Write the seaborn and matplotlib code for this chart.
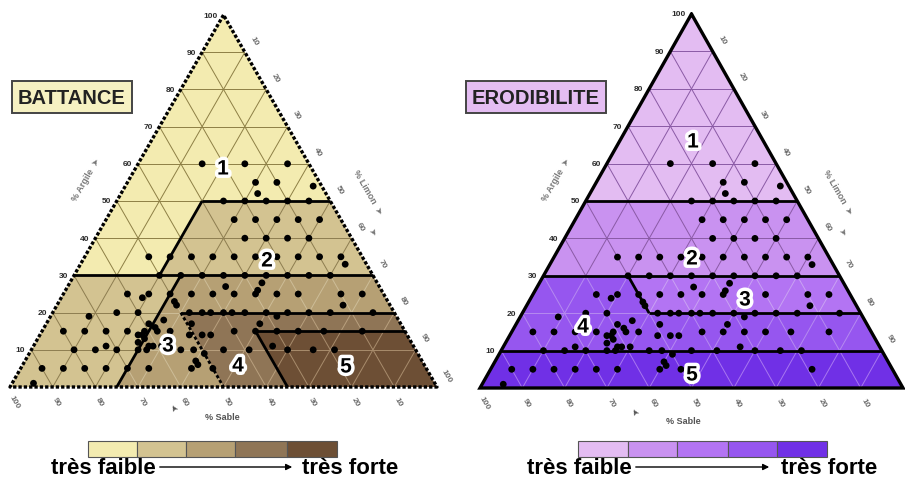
import numpy as np
import pandas as pd
import matplotlib
matplotlib.use("Agg")
import matplotlib.pyplot as plt
import seaborn as sns
from matplotlib.collections import LineCollection
from matplotlib.patches import Polygon, Rectangle
import matplotlib.patheffects as pe

sns.set_theme(style="white")
plt.rcParams["font.family"] = ["Liberation Sans", "DejaVu Sans"]

# ---------------- data (percent) ----------------
clay = [60, 60, 60, 55, 55, 54, 52,
        50, 50, 50, 50, 50, 45, 45, 45, 45, 45, 40, 40, 40, 40,
        35, 35, 35, 35, 35, 35, 35, 35, 35, 35, 33,
        30, 30, 30, 30, 30, 30, 30, 30, 30, 28, 26, 27,
        25, 24, 25, 25, 25, 25, 25, 25, 25, 25, 25, 25, 22, 22, 23,
        19, 20, 20, 20, 20, 20, 20, 20, 20, 20, 20, 20, 20, 20, 19,
        17, 17, 17, 16, 18, 15, 14, 14, 13, 12, 11, 11, 10, 10,
        15, 15, 15, 15, 15, 15, 14, 14, 14, 15, 15, 15, 15, 15, 15,
        11, 11, 11, 10, 10, 10, 10, 10, 9, 10, 10, 10, 10, 10, 7, 6,
        5, 5, 5, 5, 5, 5, 5, 5, 5, 1]
silt = [15, 25, 35, 30, 35, 44, 32,
        25, 30, 35, 40, 45, 30, 35, 40, 45, 50, 35, 40, 45, 50,
        15, 20, 25, 30, 35, 40, 45, 50, 55, 60, 62,
        20, 25, 30, 35, 40, 45, 50, 55, 60, 45, 45, 37,
        15, 19, 20, 25, 30, 35, 40, 45, 50, 55, 65, 70, 67, 28, 27,
        9, 15, 20, 32, 35, 37, 40, 42, 45, 50, 55, 60, 65, 75, 53,
        50, 34, 24, 26, 27, 27, 24, 23, 25, 24, 28, 27, 27, 25,
        5, 10, 15, 20, 24, 30, 35, 38, 40, 45, 50, 55, 60, 66, 75,
        56, 17, 30, 10, 15, 20, 35, 38, 41, 45, 51, 60, 66, 71, 40, 41,
        5, 10, 15, 20, 25, 30, 40, 45, 76, 5]

tick_values = [10, 20, 30, 40, 50, 60, 70, 80, 90, 100]
zone_names = ["1", "2", "3", "4", "5"]
titles = ["BATTANCE", "ERODIBILITE"]
legend_words = ["très faible", "très forte"]

left_colors = ["#f3ebb0", "#d3c391", "#b6a074", "#8f7556", "#6d4f35"]
right_colors = ["#e3bcf2", "#c992f0", "#b374f3", "#9656ef", "#7030e6"]

# zones as (clay, silt) polygons
left_zones = [
    [[(100, 0), (30, 0), (30, 20), (50, 20), (50, 50)]],
    [[(50, 20), (50, 50), (30, 70), (30, 20)], [(30, 0), (0, 0), (0, 25), (30, 25)]],
    [[(30, 25), (30, 70), (20, 80), (20, 30), (0, 50), (0, 25)]],
    [[(20, 30), (20, 80), (15, 85), (15, 50), (0, 65), (0, 50)]],
    [[(15, 50), (15, 85), (0, 100), (0, 65)]],
]
right_zones = [
    [[(100, 0), (50, 0), (50, 50)]],
    [[(50, 0), (50, 50), (30, 70), (30, 0)]],
    [[(30, 20), (30, 70), (20, 80), (20, 30)]],
    [[(30, 0), (30, 20), (20, 30), (20, 80), (10, 90), (10, 0)]],
    [[(10, 0), (10, 90), (0, 100), (0, 0)]],
]
left_bounds = [[(50, 20), (50, 50)], [(50, 20), (30, 20)], [(30, 0), (30, 70)],
               [(30, 25), (0, 25)], [(20, 30), (20, 80)], [(15, 50), (15, 85)],
               [(15, 50), (0, 65)]]
left_dotted = [[(20, 30), (0, 50)]]
right_bounds = [[(50, 0), (50, 50)], [(30, 0), (30, 70)], [(30, 20), (20, 30)],
                [(20, 30), (20, 80)], [(10, 0), (10, 90)]]

left_grid_cols = ["#8d7f45", "#8d7d50", "#cdbd98", "#b9a07e", "#a88c6c"]
right_grid_cols = ["#8a5aa5", "#8a5aa5", "#c9a2f2", "#b58af0", "#a877f0"]

LEFT = dict(x0=10, W=427, y0=388, H=372)
RIGHT = dict(x0=480, W=423, y0=389, H=374)


def tern(cfg, c, s):
    c = np.asarray(c, float)
    s = np.asarray(s, float)
    x = cfg["x0"] + cfg["W"] * (s + c / 2) / 100.0
    y = cfg["y0"] - cfg["H"] * c / 100.0
    return x, y


def pts(cfg, seq):
    c = [p[0] for p in seq]
    s = [p[1] for p in seq]
    x, y = tern(cfg, c, s)
    return np.column_stack([x, y])


fig = plt.figure(figsize=(9.05, 4.81), dpi=100)
ax = fig.add_axes([0, 0, 1, 1])
ax.set_xlim(0, 905)
ax.set_ylim(481, 0)
ax.axis("off")

# grid segments
grid = []
for k in range(10, 100, 10):
    grid.append([(k, 0), (k, 100 - k)])
    grid.append([(0, k), (100 - k, k)])
    grid.append([(0, 100 - k), (100 - k, 0)])


def draw_panel(cfg, zones, colors, gcols, bounds, dotted, dotted_border, right_max):
    for polys, col, gc in zip(zones, colors, gcols):
        for poly in polys:
            patch = Polygon(pts(cfg, poly), closed=True, facecolor=col,
                            edgecolor="none", zorder=1)
            ax.add_patch(patch)
            lc = LineCollection([pts(cfg, g) for g in grid], colors=gc,
                                linewidths=0.7, zorder=2)
            ax.add_collection(lc)
            lc.set_clip_path(patch)
    for b in bounds:
        p = pts(cfg, b)
        ax.plot(p[:, 0], p[:, 1], color="black", lw=2.0, zorder=3,
                solid_capstyle="butt")
    for b in dotted:
        p = pts(cfg, b)
        ax.plot(p[:, 0], p[:, 1], color="black", lw=2.0, zorder=3,
                linestyle=(0, (1.2, 0.8)))
    border = pts(cfg, [(100, 0), (0, 0), (0, 100), (100, 0)])
    if dotted_border:
        ax.plot(border[:, 0], border[:, 1], color="black", lw=2.4, zorder=3,
                linestyle=(0, (1.0, 0.6)))
    else:
        ax.plot(border[:, 0], border[:, 1], color="black", lw=2.4, zorder=3,
                solid_joinstyle="miter")
    # tick labels
    for v in tick_values:
        x, y = tern(cfg, v, 0)
        ax.text(x - 6, y, str(v), ha="right", va="center", fontsize=6,
                fontweight="bold", color="#2a2a2a", zorder=5)
        if v <= right_max:
            x, y = tern(cfg, 100 - v, v)
            ax.text(x + 9, y - 12, str(v), ha="center", va="center", fontsize=6,
                    fontweight="bold", color="#6a6a6a", rotation=-60, zorder=5)
        x, y = tern(cfg, 0, 100 - v)
        ax.text(x + 4, y + 14, str(v), ha="center", va="center", fontsize=6,
                fontweight="bold", color="#6a6a6a", rotation=-60, zorder=5)


draw_panel(LEFT, left_zones, left_colors, left_grid_cols, left_bounds,
           left_dotted, True, 100)
draw_panel(RIGHT, right_zones, right_colors, right_grid_cols, right_bounds,
           [], False, 90)

# data points
lx, ly = tern(LEFT, clay, silt)
rx, ry = tern(RIGHT, clay, silt)
df = pd.DataFrame({"x": np.concatenate([lx, rx]), "y": np.concatenate([ly, ry])})
sns.scatterplot(data=df, x="x", y="y", color="black", s=24, edgecolor="none",
                linewidth=0, ax=ax, zorder=4, legend=False)
ax.set_xlim(0, 905)
ax.set_ylim(481, 0)
ax.axis("off")

# zone numbers
stroke = [pe.withStroke(linewidth=5, foreground="white")]
left_lab = [(223, 170), (267, 262), (168, 347), (238, 367), (346, 368)]
right_lab = [(693, 143), (692, 260), (745, 301), (583, 328), (692, 376)]
for name, (x, y) in zip(zone_names, left_lab):
    ax.text(x, y, name, ha="center", va="center", fontsize=15, fontweight="bold",
            color="black", path_effects=stroke, zorder=6)
for name, (x, y) in zip(zone_names, right_lab):
    ax.text(x, y, name, ha="center", va="center", fontsize=15, fontweight="bold",
            color="black", path_effects=stroke, zorder=6)

# axis titles
for dx, sx, sy in [(0, 222, 418), (470, 683, 422)]:
    ax.text(86 + dx, 180, "% Argile  ➤", rotation=60, ha="center", va="center",
            fontsize=6.5, color="#777777", fontweight="bold")
    ax.text(368 + dx, 192, "% Limon  ➤", rotation=-60, ha="center", va="center",
            fontsize=6.5, color="#777777", fontweight="bold")
    ax.text(372 + dx, 233, "➤", rotation=-60, ha="center", va="center",
            fontsize=6.5, color="#777777")
    ax.text(sx, sy, "% Sable", ha="center", va="center", fontsize=6.5,
            color="#555555", fontweight="bold")
    ax.text(sx - 48, sy - 12, "➤", rotation=120, ha="center", va="center",
            fontsize=6.5, color="#555555")

# title boxes
ax.text(72, 98, titles[0], ha="center", va="center", fontsize=14.5,
        fontweight="bold", color="#222222",
        bbox=dict(boxstyle="square,pad=0.32", facecolor="#f6f1c2",
                  edgecolor="#444444", linewidth=1.4))
ax.text(536, 98, titles[1], ha="center", va="center", fontsize=14.5,
        fontweight="bold", color="#222222",
        bbox=dict(boxstyle="square,pad=0.32", facecolor="#e4bdf2",
                  edgecolor="#444444", linewidth=1.4))

# legends
for edges, cols, tx in [([88, 137, 186, 235, 287, 337], left_colors, (103, 350, 157, 295)),
                        ([578, 628, 677, 728, 777, 827], right_colors, (579, 829, 633, 772))]:
    for i, col in enumerate(cols):
        ax.add_patch(Rectangle((edges[i], 442), edges[i + 1] - edges[i], 16,
                               facecolor=col, edgecolor="#555555", lw=0.8, zorder=2))
    ax.text(tx[0], 474, legend_words[0], ha="center", va="baseline", fontsize=16,
            fontweight="bold", color="black")
    ax.text(tx[1], 474, legend_words[1], ha="center", va="baseline", fontsize=16,
            fontweight="bold", color="black")
    ax.annotate("", xy=(tx[3], 468), xytext=(tx[2], 468),
                arrowprops=dict(arrowstyle="-|>", color="black", lw=1.0,
                                mutation_scale=9))

fig.savefig("out.png", dpi=100)
